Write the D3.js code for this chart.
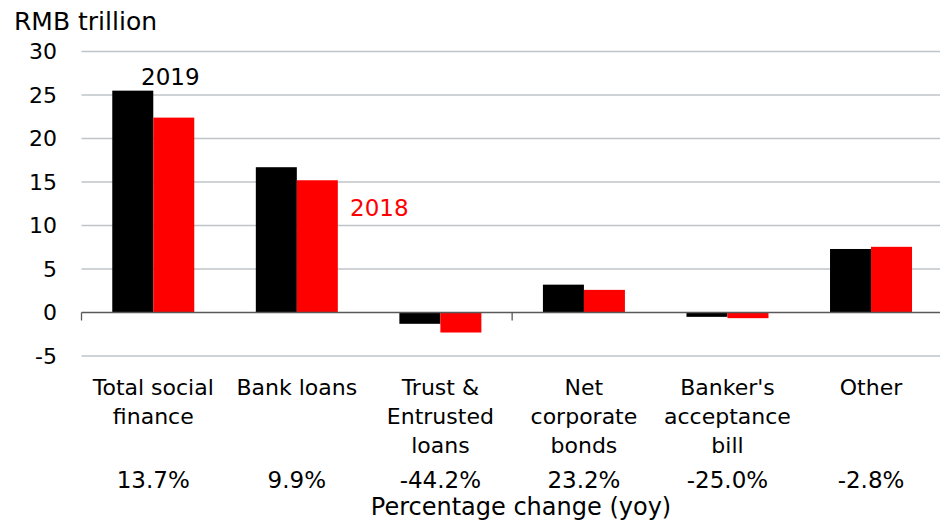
<!DOCTYPE html>
<html><head><meta charset="utf-8">
<script src="https://cdn.jsdelivr.net/npm/d3@7"></script>
<style>body{margin:0;background:#fff;} svg{display:block;font-family:"DejaVu Sans",sans-serif;}</style>
</head><body>
<svg id="c" width="940" height="522"></svg>
<script>
const categories = [["Total social","finance"],["Bank loans"],["Trust &","Entrusted","loans"],["Net","corporate","bonds"],["Banker's","acceptance","bill"],["Other"]];
const series2019 = [25.5, 16.7, -1.3, 3.2, -0.5, 7.3];
const series2018 = [22.4, 15.2, -2.3, 2.6, -0.65, 7.55];
const pctChange = ["13.7%","9.9%","-44.2%","23.2%","-25.0%","-2.8%"];
const yTicks = [-5,0,5,10,15,20,25,30];

const svg = d3.select("#c");
const x0 = 81.5, x1 = 942.8;
const y = d3.scaleLinear().domain([-5,30]).range([356, 51.5]);
const x = d3.scaleBand().domain(d3.range(categories.length)).range([x0,x1]).paddingInner(0).paddingOuter(0);
const bw = 41;

// gridlines
svg.append("g").selectAll("line").data(yTicks.filter(d=>d!==0)).join("line")
  .attr("x1",x0).attr("x2",940).attr("y1",d=>y(d)).attr("y2",d=>y(d))
  .attr("stroke","#bfc4c9").attr("stroke-width",1.3);

// y tick labels
svg.append("g").selectAll("text").data(yTicks).join("text")
  .attr("x",57).attr("y",d=>y(d)).attr("dy","0.36em").attr("text-anchor","end")
  .attr("font-size",22).attr("fill","#000").text(d=>d);

// bars
const g = svg.append("g");
g.selectAll("rect.b19").data(series2019).join("rect").attr("class","b19")
  .attr("x",(d,i)=>x(i)+x.bandwidth()/2-bw).attr("width",bw)
  .attr("y",d=>y(Math.max(0,d))).attr("height",d=>Math.abs(y(d)-y(0)))
  .attr("fill","#000");
g.selectAll("rect.b18").data(series2018).join("rect").attr("class","b18")
  .attr("x",(d,i)=>x(i)+x.bandwidth()/2).attr("width",bw)
  .attr("y",d=>y(Math.max(0,d))).attr("height",d=>Math.abs(y(d)-y(0)))
  .attr("fill","#ff0000");

// zero axis
svg.append("line").attr("x1",x0).attr("x2",940).attr("y1",y(0)).attr("y2",y(0))
  .attr("stroke","#595959").attr("stroke-width",1.3);
[0,3].forEach(i=>{
  svg.append("line").attr("x1",x(i)).attr("x2",x(i)).attr("y1",y(0)).attr("y2",y(0)+8)
    .attr("stroke","#595959").attr("stroke-width",1.3);
});

// category labels
const cl = svg.append("g");
categories.forEach((lines,i)=>{
  const t = cl.append("text").attr("text-anchor","middle").attr("font-size",22).attr("fill","#000");
  lines.forEach((s,j)=>{
    t.append("tspan").attr("x",x(i)+x.bandwidth()/2).attr("y",395+j*29).text(s);
  });
});
svg.append("g").selectAll("text").data(pctChange).join("text")
  .attr("x",(d,i)=>x(i)+x.bandwidth()/2).attr("y",488).attr("text-anchor","middle")
  .attr("font-size",23).attr("fill","#000").text(d=>d);

svg.append("text").attr("x",521).attr("y",515).attr("text-anchor","middle")
  .attr("font-size",24).attr("fill","#000").text("Percentage change (yoy)");
svg.append("text").attr("x",14).attr("y",30).attr("font-size",25).attr("fill","#000").text("RMB trillion");
svg.append("text").attr("x",141).attr("y",85).attr("font-size",23).attr("fill","#000").text("2019");
svg.append("text").attr("x",350).attr("y",216).attr("font-size",23).attr("fill","#ff0000").text("2018");
</script>
</body></html>
